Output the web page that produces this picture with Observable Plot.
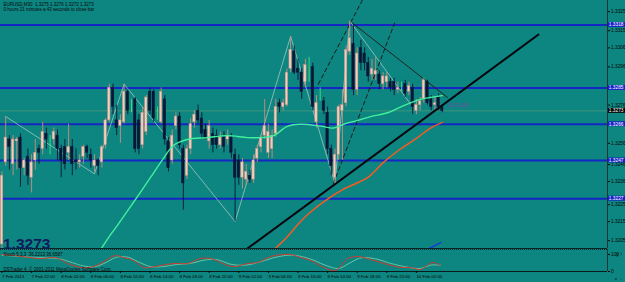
<!DOCTYPE html>
<html><head><meta charset="utf-8">
<script src="https://cdn.jsdelivr.net/npm/d3@7"></script>
<script src="https://cdn.jsdelivr.net/npm/@observablehq/plot@0.6"></script>
<style>
html,body{margin:0;padding:0;background:#0d8580;}
#chart{position:relative;width:625px;height:282px;background:#0d8580;overflow:hidden;}
#chart svg{position:absolute;left:0;display:block;}
</style></head><body><div id="chart"></div>
<script>
// ---- data (EURUSD M30, one entry per bar) ----
const open = [1.3203,1.3246,1.3258,1.3245,1.3257,1.3259,1.3243,1.3249,1.3238,1.3247,1.3253,1.3253,1.3261,1.3257,1.3258,1.3260,1.3253,1.3254,1.3251,1.3254,
1.3247,1.3246,1.3249,1.3254,1.3250,1.3244,1.3247,1.3246,1.3255,1.3268,1.3285,1.3268,1.3265,1.3267,1.3283,1.3275,1.3279,1.3268,1.3255,1.3262,
1.3283,1.3283,1.3271,1.3267,1.3279,1.3257,1.3247,1.3265,1.3270,1.3253,1.3239,1.3253,1.3267,1.3273,1.3269,1.3263,1.3257,1.3261,1.3260,1.3255,
1.3259,1.3258,1.3259,1.3250,1.3247,1.3238,1.3237,1.3239,1.3237,1.3248,1.3254,1.3260,1.3251,1.3253,1.3261,1.3277,1.3275,1.3276,1.3295,1.3304,
1.3295,1.3293,1.3288,1.3295,1.3296,1.3267,1.3281,1.3278,1.3272,1.3253,1.3238,1.3250,1.3273,1.3277,1.3304,1.3308,1.3284,1.3306,1.3303,1.3298,
1.3292,1.3292,1.3292,1.3287,1.3288,1.3288,1.3288,1.3284,1.3285,1.3287,1.3283,1.3285,1.3273,1.3276,1.3279,1.3288,1.3279,1.3276,1.3280,1.3275];
const high = [1.3241,1.3270,1.3260,1.3260,1.3259,1.3261,1.3248,1.3253,1.3250,1.3258,1.3255,1.3267,1.3264,1.3260,1.3264,1.3263,1.3255,1.3258,1.3266,1.3258,
1.3253,1.3250,1.3255,1.3255,1.3253,1.3250,1.3248,1.3255,1.3269,1.3287,1.3287,1.3276,1.3271,1.3287,1.3284,1.3279,1.3280,1.3271,1.3275,1.3281,
1.3285,1.3284,1.3275,1.3285,1.3281,1.3259,1.3263,1.3272,1.3272,1.3255,1.3255,1.3269,1.3273,1.3276,1.3272,1.3266,1.3268,1.3264,1.3263,1.3262,
1.3262,1.3263,1.3261,1.3253,1.3250,1.3248,1.3245,1.3242,1.3250,1.3255,1.3260,1.3279,1.3266,1.3263,1.3279,1.3279,1.3279,1.3295,1.3312,1.3307,
1.3300,1.3295,1.3300,1.3301,1.3298,1.3281,1.3285,1.3280,1.3275,1.3255,1.3253,1.3276,1.3284,1.3307,1.3320,1.3318,1.3306,1.3310,1.3306,1.3301,
1.3300,1.3301,1.3294,1.3293,1.3293,1.3290,1.3290,1.3288,1.3288,1.3289,1.3288,1.3287,1.3279,1.3280,1.3290,1.3289,1.3281,1.3280,1.3282,1.3276];
const low = [1.3200,1.3244,1.3242,1.3239,1.3242,1.3233,1.3239,1.3234,1.3230,1.3242,1.3245,1.3250,1.3253,1.3250,1.3255,1.3247,1.3238,1.3242,1.3247,1.3239,
1.3242,1.3243,1.3245,1.3248,1.3243,1.3241,1.3239,1.3243,1.3253,1.3267,1.3271,1.3260,1.3256,1.3266,1.3271,1.3272,1.3251,1.3250,1.3253,1.3260,
1.3271,1.3267,1.3268,1.3266,1.3255,1.3241,1.3245,1.3263,1.3253,1.3221,1.3237,1.3250,1.3264,1.3266,1.3258,1.3258,1.3253,1.3251,1.3253,1.3253,
1.3251,1.3255,1.3248,1.3215,1.3234,1.3232,1.3234,1.3235,1.3235,1.3246,1.3251,1.3258,1.3248,1.3248,1.3259,1.3272,1.3273,1.3275,1.3293,1.3292,
1.3289,1.3279,1.3285,1.3288,1.3273,1.3264,1.3278,1.3271,1.3250,1.3239,1.3235,1.3247,1.3247,1.3275,1.3302,1.3281,1.3281,1.3294,1.3294,1.3288,
1.3289,1.3289,1.3284,1.3284,1.3285,1.3283,1.3281,1.3282,1.3283,1.3280,1.3281,1.3271,1.3271,1.3273,1.3277,1.3276,1.3273,1.3273,1.3273,1.3272];
const close = [1.3239,1.3259,1.3254,1.3258,1.3258,1.3243,1.3247,1.3239,1.3246,1.3251,1.3251,1.3262,1.3258,1.3257,1.3262,1.3253,1.3247,1.3245,1.3254,1.3245,
1.3246,1.3247,1.3254,1.3251,1.3247,1.3247,1.3244,1.3254,1.3268,1.3285,1.3275,1.3264,1.3268,1.3283,1.3273,1.3275,1.3253,1.3253,1.3272,1.3280,
1.3273,1.3269,1.3271,1.3283,1.3258,1.3243,1.3260,1.3270,1.3255,1.3235,1.3253,1.3266,1.3271,1.3268,1.3261,1.3259,1.3265,1.3255,1.3255,1.3259,
1.3254,1.3260,1.3251,1.3238,1.3238,1.3246,1.3241,1.3237,1.3247,1.3253,1.3259,1.3265,1.3262,1.3260,1.3275,1.3275,1.3277,1.3293,1.3305,1.3293,
1.3293,1.3283,1.3297,1.3295,1.3275,1.3277,1.3281,1.3273,1.3253,1.3244,1.3250,1.3275,1.3276,1.3305,1.3311,1.3284,1.3303,1.3298,1.3298,1.3291,
1.3295,1.3294,1.3287,1.3291,1.3291,1.3285,1.3284,1.3285,1.3285,1.3282,1.3286,1.3275,1.3276,1.3278,1.3289,1.3277,1.3275,1.3277,1.3275,1.3273];

// time axis (bar index of each label)
const timeTicks = [0,8,16,24,32,40,48,56,64,72,80,88,96,104,112];
const timeLabels = ["7 Feb 2013","7 Feb 22:00","8 Feb 02:00","8 Feb 06:00","8 Feb 10:00","8 Feb 14:00","8 Feb 18:00","8 Feb 22:00","9 Feb 02:00","9 Feb 06:00","9 Feb 10:00","9 Feb 14:00","9 Feb 18:00","9 Feb 22:00","10 Feb 02:00"];
// price axis (two labels sit just under level boxes)
const priceTicks = [1.3325,1.3315,1.3306,1.3296,1.3276,1.3256,1.3236,1.3215,1.3205];
const priceLabels = ["1.3325","1.3315","1.3306","1.3296","1.3276","1.3256","1.3236","1.3215","1.3205"];
const priceTicksLow = [1.3246,1.3225];
const priceLabelsLow = ["1.3246","1.3225"];
// horizontal levels (blue)
const levels = [1.3318,1.3285,1.3266,1.3247,1.3227];
const lastPrice = 1.3273;

// moving averages
const maGreenIdx = [26.9,29.3,31.2,35.5,40.1,43.6,46.4,50.1,55.5,60.9,66.4,69.9,73.4,77.2,80.7,86.1,89.6,92.3,96.1,99.6,104.2,107.7,113.1,119];
const maGreenVal = [1.3201,1.3208,1.3213,1.3225,1.3238,1.3248,1.3255,1.3258,1.3259,1.3260,1.3259,1.3259,1.3260,1.3265,1.3266,1.3265,1.3264,1.3266,1.3268,1.3270,1.3272,1.3275,1.3279,1.3281];
const maRedIdx = [73.9,76.6,80.7,83.4,87.4,92.3,98.8,103.1,107.7,112.3,115.8,119];
const maRedVal = [1.3201,1.3206,1.3215,1.3220,1.3226,1.3232,1.3238,1.3246,1.3253,1.3259,1.3264,1.3267];

// zigzag
const zzIdx = [1,25,33,63,78,90,94,111];
const zzVal = [1.3270,1.3240,1.3287,1.3215,1.3312,1.3235,1.3320,1.3275];

// drawn trend lines [idx0, idx1], [val0, val1]
const trendMainIdx = [66.4,145], trendMainVal = [1.3201,1.3313];
const dash1Idx = [85.5,97.4], dash1Val = [1.3287,1.3331];
const dash2Idx = [89.6,106.1], dash2Val = [1.3235,1.3319];
const downIdx = [94.7,120.4], downVal = [1.3319,1.3280];
const blueSegIdx = [115.5,118.6], blueSegVal = [1.3201,1.3204];

// stochastic (5,3,3)
const stochIdx = [0,3.1,7.7,10.4,13.9,15.3,17.7,21.2,23.9,26.6,29.3,30.7,32.8,35.5,38.2,40.1,42.8,46.4,50.1,53.6,56.4,62.3,66.4,69.1,72.6,76.1,78,80.7,83.4,86.9,90.1,93.4,96.1,99.6,104.2,107.7,110.4,113.1,116.4,118.5];
const stochVal = [100,94,82,76,82,76,47,24,24,47,82,94,82,65,24,24,35,47,47,76,76,29,47,53,88,100,100,82,65,24,6,76,88,71,41,24,24,12,53,36];
const signalIdx = [0,4,8,12,16,19,22,25,28,31,34,37,40,43,47,51,55,58,62,66,70,74,78,81,84,88,91,94,97,101,105,109,113,116,118.5];
const signalVal = [95,90,84,80,72,52,33,28,52,84,84,55,30,28,40,48,68,70,42,38,58,84,96,88,68,32,18,50,80,74,48,28,18,38,37];

const title1 = "EURUSD,M30  1.3275 1.3276 1.3272 1.3273";
const title2 = "0 hours 21 minutes a 43 seconds to close bar";
const stochTitle = "Stoch 5,3,3  36.2213 36.6587";
const copyright = "DSTrader 4, \u00a9 2001-2011 MetaQuotes Software Corp.";
const timerText = "02.21.85";

// ---- build ----
const bars = open.map((o,i)=>({i, o, h: high[i], l: low[i], c: close[i],
  t: close[i] > o ? "up" : close[i] < o ? "down" : "doji"}));
const wickColor = {up:"#c8907e", down:"#0a1636", doji:"#3ee67e"};
const bodyColor = {up:"#f5cdbf", down:"#0a1636", doji:"#3ee67e"};
const pts = (xs, ys) => xs.map((x,k)=>({x, y: ys[k]}));

const X_DOMAIN = [-0.405, 163.65];
const BOX = 0.00013;
const font = "'Liberation Sans', Arial, sans-serif";
const root = document.getElementById("chart");

const main = Plot.plot({
  width: 625, height: 249,
  marginTop: 0, marginLeft: 0, marginRight: 18, marginBottom: 1,
  x: {domain: X_DOMAIN, axis: null},
  y: {domain: [1.32009, 1.33308]},
  color: {type: "identity"},
  style: {background: "none", fontFamily: font, color: "#050505", overflow: "visible"},
  marks: [
    Plot.ruleY([lastPrice], {stroke: "#4f9a78", strokeWidth: 1, strokeOpacity: 0.8}),
    Plot.ruleY(levels, {stroke: "#1426c4", strokeWidth: 2}),
    Plot.line(pts(zzIdx, zzVal), {x: "x", y: "y", stroke: "#bcd2ca", strokeWidth: 0.8, strokeOpacity: 0.85}),
    Plot.line(pts(dash1Idx, dash1Val), {x: "x", y: "y", stroke: "#1b1b1b", strokeWidth: 1, strokeDasharray: "4,3"}),
    Plot.line(pts(dash2Idx, dash2Val), {x: "x", y: "y", stroke: "#1b1b1b", strokeWidth: 1, strokeDasharray: "4,3"}),
    Plot.line(pts(downIdx, downVal), {x: "x", y: "y", stroke: "#222", strokeWidth: 1}),
    Plot.ruleX(bars, {x: "i", y1: "l", y2: "h", stroke: d => wickColor[d.t], strokeWidth: 0.9}),
    Plot.rect(bars, {x1: d => d.i - 0.32, x2: d => d.i + 0.32, y1: "o", y2: "c",
      fill: d => bodyColor[d.t], stroke: d => wickColor[d.t], strokeWidth: d => d.t === "doji" ? 0.9 : 0.5}),
    Plot.line(pts(maGreenIdx, maGreenVal), {x: "x", y: "y", stroke: "#41f09c", strokeWidth: 1.4, curve: "catmull-rom"}),
    Plot.line(pts(maRedIdx, maRedVal), {x: "x", y: "y", stroke: "#ff5a1e", strokeWidth: 1.4, curve: "catmull-rom"}),
    Plot.line(pts(trendMainIdx, trendMainVal), {x: "x", y: "y", stroke: "#07070f", strokeWidth: 2}),
    Plot.line(pts(blueSegIdx, blueSegVal), {x: "x", y: "y", stroke: "#1a3ad8", strokeWidth: 1.5}),
    Plot.text([timerText], {x: 120.5, y: 1.3276, text: d => d, fill: "#7a4aa8", fontSize: 5.2, textAnchor: "start"}),
    // right price scale
    Plot.axisY(priceTicks, {anchor: "right", tickSize: 2, tickPadding: 1.5, fontSize: 4.8,
      tickFormat: d => priceLabels[priceTicks.indexOf(d)]}),
    Plot.axisY(priceTicksLow, {anchor: "right", tickSize: 2, tickPadding: 1.5, fontSize: 4.8, dy: 2.2,
      tickFormat: d => priceLabelsLow[priceTicksLow.indexOf(d)]}),
    Plot.rect(levels, {x1: X_DOMAIN[1], x2: X_DOMAIN[1] + 4.9, y1: d => d - BOX, y2: d => d + BOX, fill: "#1a22c8"}),
    Plot.text(levels, {x: X_DOMAIN[1] + 0.35, y: d => d, text: d => d.toFixed(4), fill: "#ffffff", fontSize: 4.8, textAnchor: "start"}),
    Plot.rect([lastPrice], {x1: X_DOMAIN[1], x2: X_DOMAIN[1] + 4.9, y1: d => d - BOX, y2: d => d + BOX, fill: "#050505"}),
    Plot.text([lastPrice], {x: X_DOMAIN[1] + 0.35, y: d => d, text: d => d.toFixed(4), fill: "#ffffff", fontSize: 4.8, textAnchor: "start"}),
    // pane borders
    Plot.ruleX([X_DOMAIN[1]], {stroke: "#1d3333", strokeWidth: 1}),
    Plot.ruleY([1.32009], {stroke: "#0b2626", strokeWidth: 1.2}),
    // texts
    Plot.text([title1], {frameAnchor: "top-left", dx: 3, dy: 2, text: d => d, fontSize: 4.5, fill: "#0a0a0a", textAnchor: "start"}),
    Plot.text([title2], {frameAnchor: "top-left", dx: 3, dy: 7, text: d => d, fontSize: 4.5, fill: "#0a0a0a", textAnchor: "start"}),
    Plot.text(["1.3273"], {frameAnchor: "bottom-left", dx: 2.5, dy: 0, text: d => d, fontSize: 15.5, fontWeight: "bold", fill: "#0f1c5e", textAnchor: "start"})
  ]
});
main.style.top = "0px";
root.appendChild(main);

const ind = Plot.plot({
  width: 625, height: 33,
  marginTop: 0, marginLeft: 0, marginRight: 18, marginBottom: 11,
  x: {domain: X_DOMAIN},
  y: {domain: [0, 129.4]},
  style: {background: "none", fontFamily: font, color: "#050505", overflow: "visible"},
  marks: [
    Plot.ruleY([129.4], {stroke: "#0b2626", strokeWidth: 1, strokeDasharray: "1,1"}),
    Plot.line(pts(signalIdx, signalVal), {x: "x", y: "y", stroke: "#7fd8b0", strokeWidth: 0.9, strokeDasharray: "1,1", curve: "catmull-rom"}),
    Plot.line(pts(stochIdx, stochVal), {x: "x", y: "y", stroke: "#d23a2e", strokeWidth: 1, curve: "catmull-rom"}),
    Plot.ruleY([0], {stroke: "#0b1a1a", strokeWidth: 1}),
    Plot.ruleX([X_DOMAIN[1]], {stroke: "#1d3333", strokeWidth: 1}),
    Plot.axisY([0, 100], {anchor: "right", tickSize: 2, tickPadding: 1.5, fontSize: 4.8, tickFormat: d => String(d)}),
    Plot.axisX(timeTicks, {anchor: "bottom", tickSize: 2, tickPadding: 1, fontSize: 4.4, textAnchor: "start",
      tickFormat: d => timeLabels[timeTicks.indexOf(d)]}),
    Plot.text([stochTitle], {frameAnchor: "top-left", dx: 3, dy: 3, text: d => d, fontSize: 4.5, fill: "#0a0a0a", textAnchor: "start"}),
    Plot.text([copyright], {frameAnchor: "bottom-left", dx: 3, dy: -1, text: d => d, fontSize: 4.5, fill: "#0a0a0a", textAnchor: "start"})
  ]
});
ind.style.top = "249px";
root.appendChild(ind);
</script></body></html>
